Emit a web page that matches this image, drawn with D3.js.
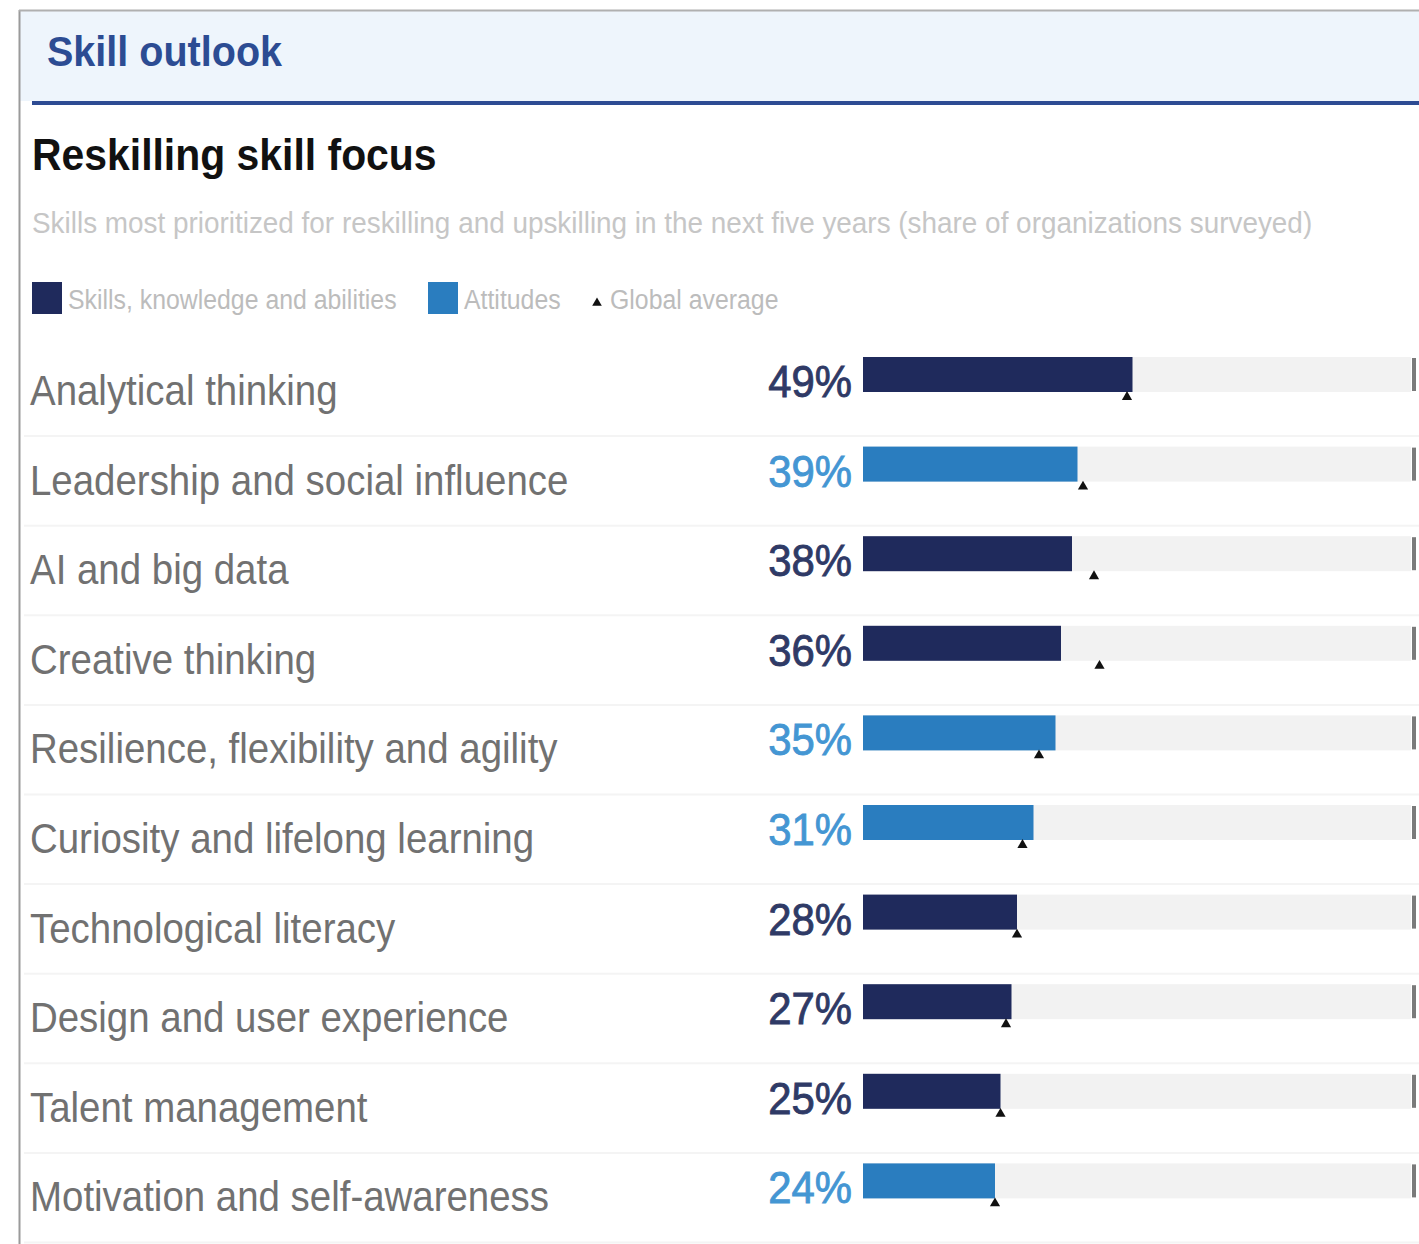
<!DOCTYPE html>
<html>
<head>
<meta charset="utf-8">
<script src="https://cdn.jsdelivr.net/npm/d3@7"></script>
<style>
  html, body { margin: 0; padding: 0; background: #ffffff; }
  svg { display: block; font-family: "Liberation Sans", Arial, Helvetica, sans-serif; }
</style>
</head>
<body>
<svg id="chart" width="1419" height="1244"></svg>
<script>
// ---- data ----
const categories = [
  "Analytical thinking",
  "Leadership and social influence",
  "AI and big data",
  "Creative thinking",
  "Resilience, flexibility and agility",
  "Curiosity and lifelong learning",
  "Technological literacy",
  "Design and user experience",
  "Talent management",
  "Motivation and self-awareness"
];
const values = [49, 39, 38, 36, 35, 31, 28, 27, 25, 24];
const skillTypes = ["skills", "attitudes", "skills", "skills", "attitudes", "attitudes", "skills", "skills", "skills", "attitudes"];
const globalAverage = [48, 40, 42, 43, 32, 29, 28, 26, 25, 24];
const typeKeys = ["skills", "attitudes"];
const legendLabels = ["Skills, knowledge and abilities", "Attitudes", "Global average"];
const panelTitle = "Skill outlook";
const chartTitle = "Reskilling skill focus";
const chartSubtitle = "Skills most prioritized for reskilling and upskilling in the next five years (share of organizations surveyed)";

// ---- styles ----
const barColor = d3.scaleOrdinal().domain(typeKeys).range(["#1f2a5c", "#2a7dbf"]);
const pctColor = d3.scaleOrdinal().domain(typeKeys).range(["#2f3a66", "#4496d3"]);

const svg = d3.select("#chart");
const W = 1419, H = 1244;

// frame + header
svg.append("rect").attr("x", 20).attr("y", 11).attr("width", W - 20).attr("height", 90).attr("fill", "#eef5fc");
svg.append("line").attr("x1", 19.5).attr("x2", 19.5).attr("y1", 10).attr("y2", H).attr("stroke", "#9a9a9a").attr("stroke-width", 2);
svg.append("line").attr("x1", 19).attr("x2", W).attr("y1", 10.5).attr("y2", 10.5).attr("stroke", "#b0b0b0").attr("stroke-width", 2);
svg.append("line").attr("x1", 32).attr("x2", W).attr("y1", 103).attr("y2", 103).attr("stroke", "#2d4b93").attr("stroke-width", 4);

function condensed(x, y, sx) {
  return svg.append("g").attr("transform", `translate(${x},${y}) scale(${sx},1)`);
}

condensed(47, 66, 0.92).append("text")
  .attr("font-size", 43).attr("font-weight", "bold").attr("fill", "#2c4c93")
  .text(panelTitle);

condensed(32, 170, 0.93).append("text")
  .attr("font-size", 44).attr("font-weight", "bold").attr("fill", "#111111")
  .text(chartTitle);

condensed(32, 233, 0.93).append("text")
  .attr("font-size", 30).attr("fill", "#c6c6c6")
  .text(chartSubtitle);

// legend
const legendY = 282;
const legendItems = [
  { key: "skills", x: 32, label: legendLabels[0] },
  { key: "attitudes", x: 428, label: legendLabels[1] }
];
legendItems.forEach(it => {
  svg.append("rect").attr("x", it.x).attr("y", legendY).attr("width", 30).attr("height", 32).attr("fill", barColor(it.key));
  condensed(it.x + 36, 309, 0.92).append("text").attr("font-size", 27).attr("fill", "#bcbcbc").text(it.label);
});
svg.append("path").attr("d", d3.symbol(d3.symbolTriangle, 40)()).attr("transform", "translate(597,303)").attr("fill", "#111");
condensed(610, 309, 0.92).append("text").attr("font-size", 27).attr("fill", "#bcbcbc").text(legendLabels[2]);

// scales
const x = d3.scaleLinear().domain([0, 100]).range([863, 1413]);
const y = d3.scaleBand().domain(categories).range([347, 347 + 89.6 * categories.length]).paddingInner(0);
const barTop = 10, barH = 35;

const rows = svg.append("g").selectAll("g.row")
  .data(categories.map((c, i) => ({ c, v: values[i], t: skillTypes[i], g: globalAverage[i] })))
  .join("g").attr("class", "row")
  .attr("transform", d => `translate(0,${y(d.c)})`);

// separators
rows.append("line")
  .attr("x1", 24).attr("x2", W)
  .attr("y1", y.bandwidth() - 0.5).attr("y2", y.bandwidth() - 0.5)
  .attr("stroke", "#f4f4f4").attr("stroke-width", 2);

// track
rows.append("rect")
  .attr("x", x(0)).attr("y", barTop)
  .attr("width", x(100) - x(0) - 2).attr("height", barH)
  .attr("fill", "#f2f2f2");
// end tick
rows.append("rect")
  .attr("x", x(100) - 1).attr("y", barTop + 1)
  .attr("width", 4).attr("height", barH - 2)
  .attr("fill", "#7a7a7a");

// bars
rows.append("rect")
  .attr("x", x(0)).attr("y", barTop)
  .attr("width", d => x(d.v) - x(0)).attr("height", barH)
  .attr("fill", d => barColor(d.t));

// global average triangles
rows.append("path")
  .attr("d", d3.symbol(d3.symbolTriangle, 45)())
  .attr("transform", d => `translate(${x(d.g)},${barTop + barH + 5})`)
  .attr("fill", "#111");

// category labels
rows.append("g").attr("transform", "translate(30,58) scale(0.915,1)")
  .append("text")
  .attr("font-size", 42).attr("fill", "#717171")
  .text(d => d.c);

// percentage labels
rows.append("g").attr("transform", "translate(852,50) scale(0.93,1)")
  .append("text")
  .attr("text-anchor", "end")
  .attr("font-size", 45)
  .attr("fill", d => pctColor(d.t))
  .attr("stroke", d => pctColor(d.t))
  .attr("stroke-width", 0.9)
  .text(d => d3.format("d")(d.v) + "%");
</script>
</body>
</html>
